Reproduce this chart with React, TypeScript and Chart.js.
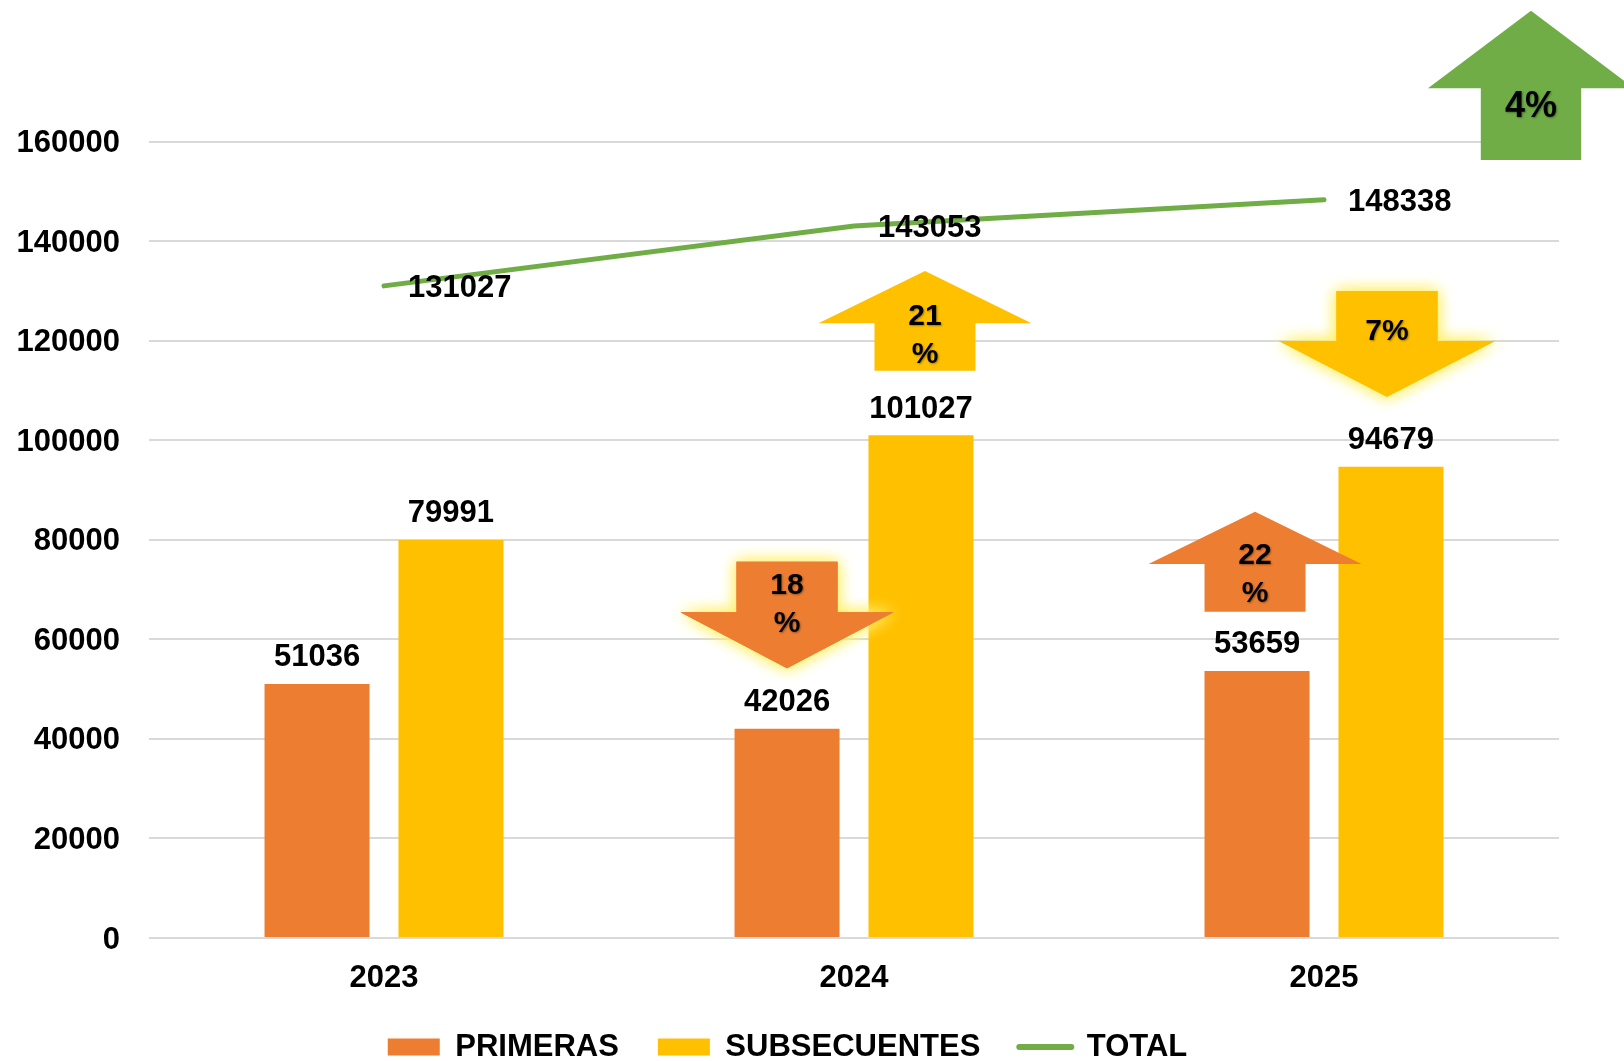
import React, { useEffect, useRef } from "react";
import { Chart, registerables } from "chart.js";

Chart.register(...registerables);

// ---------------- data ----------------
const categories = ["2023", "2024", "2025"];
const primeras = [51036, 42026, 53659];
const subsecuentes = [79991, 101027, 94679];
const total = [131027, 143053, 148338];
const yTickValues = [0, 20000, 40000, 60000, 80000, 100000, 120000, 140000, 160000];
const seriesNames = ["PRIMERAS", "SUBSECUENTES", "TOTAL"];
const changeTexts = [["18", "%"], ["21", "%"], ["22", "%"], ["7%"], ["4%"]];

// ---------------- styles ----------------
const COLORS = {
  primeras: "#ED7D31",
  subsecuentes: "#FFC000",
  total: "#70AD47",
  grid: "#D9D9D9",
  text: "#000000",
};
const FONT = "'Liberation Sans', Arial, Helvetica, sans-serif";
const CAP = 0.358; // half cap-height ratio, to centre digits vertically on an alphabetic baseline

// arrow annotations: anchored on a bar (ds, idx) or on the right edge of the plot (ds = -1);
// vertical anchors expressed in value units of the y scale
const ARROWS = [
  { ds: 0, idx: 1, dx: 0, start: 75610, base: 65443, tip: 54190, textAt: 66910, color: COLORS.primeras, glow: true, half: 50.5, headHalf: 106.5, size: 30 },
  { ds: 1, idx: 1, dx: 4, start: 113990, base: 123512, tip: 134020, textAt: 121000, color: COLORS.subsecuentes, glow: false, half: 50.5, headHalf: 106.5, size: 30 },
  { ds: 0, idx: 2, dx: -2, start: 65563, base: 75147, tip: 85656, textAt: 72937, color: COLORS.primeras, glow: false, half: 50.5, headHalf: 106.5, size: 30 },
  { ds: 1, idx: 2, dx: -4, start: 130000, base: 119955, tip: 108763, textAt: 121822, color: COLORS.subsecuentes, glow: true, half: 50.5, headHalf: 108, size: 30 },
  { ds: -1, idx: 0, dx: -28, start: 156323, base: 170730, tip: 186320, textAt: 166970, color: COLORS.total, glow: false, half: 50.2, headHalf: 103, size: 36 },
];

const dataLabelsPlugin = {
  id: "dataLabels",
  afterDatasetsDraw(chart: any) {
    const ctx = chart.ctx;
    ctx.save();
    const size = 31;
    ctx.font = `bold ${size}px ${FONT}`;
    ctx.fillStyle = COLORS.text;
    ctx.textBaseline = "alphabetic";
    chart.data.datasets.forEach((ds: any, di: number) => {
      const meta = chart.getDatasetMeta(di);
      meta.data.forEach((el: any, i: number) => {
        const v = ds.data[i];
        if (ds.type === "line") {
          ctx.textAlign = "left";
          ctx.fillText(String(v), el.x + 24, el.y + CAP * size);
        } else {
          ctx.textAlign = "center";
          ctx.fillText(String(v), el.x, el.y - 28.7 + CAP * size);
        }
      });
    });
    ctx.restore();
  },
};

const arrowsPlugin = {
  id: "changeArrows",
  afterDraw(chart: any) {
    const ctx = chart.ctx;
    const y = chart.scales.y;
    ARROWS.forEach((a, k) => {
      let cx: number;
      if (a.ds >= 0) {
        cx = chart.getDatasetMeta(a.ds).data[a.idx].x + a.dx;
      } else {
        cx = chart.chartArea.right + a.dx;
      }
      const ys = y.getPixelForValue(a.start);
      const yb = y.getPixelForValue(a.base);
      const yt = y.getPixelForValue(a.tip);
      const path = () => {
        ctx.beginPath();
        ctx.moveTo(cx - a.half, ys);
        ctx.lineTo(cx - a.half, yb);
        ctx.lineTo(cx - a.headHalf, yb);
        ctx.lineTo(cx, yt);
        ctx.lineTo(cx + a.headHalf, yb);
        ctx.lineTo(cx + a.half, yb);
        ctx.lineTo(cx + a.half, ys);
        ctx.closePath();
      };
      ctx.save();
      ctx.fillStyle = a.color;
      if (a.glow) {
        ctx.shadowColor = "rgba(255, 240, 110, 1)";
        ctx.shadowBlur = 16;
        path();
        ctx.fill();
        ctx.fill();
        ctx.shadowBlur = 0;
        ctx.shadowColor = "transparent";
      }
      path();
      ctx.fill();
      ctx.restore();

      // text
      const lines = changeTexts[k];
      const tc = y.getPixelForValue(a.textAt);
      ctx.save();
      ctx.font = `bold ${a.size}px ${FONT}`;
      ctx.fillStyle = COLORS.text;
      ctx.textAlign = "center";
      ctx.textBaseline = "middle";
      ctx.shadowColor = "rgba(0,0,0,0.35)";
      ctx.shadowOffsetX = 1;
      ctx.shadowOffsetY = 1;
      ctx.shadowBlur = 2;
      const spacing = 38;
      lines.forEach((t, li) => {
        const off = (li - (lines.length - 1) / 2) * spacing;
        ctx.fillText(t, cx, tc + off);
      });
      ctx.restore();
    });
  },
};

export default function App() {
  const ref = useRef<HTMLCanvasElement | null>(null);

  useEffect(() => {
    document.body.style.margin = "0";
    const canvas = ref.current;
    if (!canvas) return;
    Chart.defaults.font.family = FONT;

    const chart = new Chart(canvas, {
      type: "bar",
      data: {
        labels: categories,
        datasets: [
          {
            type: "bar",
            label: seriesNames[0],
            data: primeras,
            backgroundColor: COLORS.primeras,
            borderWidth: 0,
            categoryPercentage: 0.57,
            barPercentage: 0.784,
            order: 1,
          },
          {
            type: "bar",
            label: seriesNames[1],
            data: subsecuentes,
            backgroundColor: COLORS.subsecuentes,
            borderWidth: 0,
            categoryPercentage: 0.57,
            barPercentage: 0.784,
            order: 2,
          },
          {
            type: "line",
            label: seriesNames[2],
            data: total,
            borderColor: COLORS.total,
            backgroundColor: COLORS.total,
            borderWidth: 5,
            borderCapStyle: "round",
            pointRadius: 0,
            tension: 0,
            fill: false,
            order: 0,
          },
        ] as any,
      },
      options: {
        responsive: false,
        animation: false,
        devicePixelRatio: 1,
        events: [],
        layout: {
          padding: { top: 141.7, left: 16, right: 65, bottom: -11.5 },
        },
        plugins: {
          tooltip: { enabled: false },
          legend: {
            display: true,
            position: "bottom",
            align: "center",
            labels: {
              usePointStyle: true,
              pointStyleWidth: 52,
              boxHeight: 17,
              padding: 39,
              color: COLORS.text,
              font: { size: 31, weight: "bold", family: FONT },
              generateLabels: (ch: any) =>
                ch.data.datasets.map((ds: any, i: number) => {
                  const isLine = ds.type === "line";
                  const c = isLine ? COLORS.total : ds.backgroundColor;
                  return {
                    text: ds.label,
                    fillStyle: c,
                    strokeStyle: c,
                    lineWidth: isLine ? 6 : 0,
                    lineCap: isLine ? "round" : "butt",
                    pointStyle: isLine ? "line" : "rect",
                    hidden: false,
                    datasetIndex: i,
                    fontColor: COLORS.text,
                  };
                }),
            },
          },
        },
        scales: {
          x: {
            type: "category",
            offset: true,
            grid: { display: false, drawTicks: false },
            border: { display: false },
            ticks: {
              color: COLORS.text,
              padding: 22,
              font: { size: 31, weight: "bold", family: FONT },
            },
            afterFit: (s: any) => {
              s.height = 54.5;
            },
          },
          y: {
            min: 0,
            max: 160000,
            grid: { color: COLORS.grid, lineWidth: 2, drawTicks: false },
            border: { display: false },
            ticks: {
              color: COLORS.text,
              padding: 29,
              labelOffset: 2,
              font: { size: 31, weight: "bold", family: FONT },
              callback: (v: any) => String(v),
            },
            afterBuildTicks: (s: any) => {
              s.ticks = yTickValues.map((v) => ({ value: v }));
            },
            afterFit: (s: any) => {
              s.width = 133;
            },
          },
        },
      } as any,
      plugins: [dataLabelsPlugin, arrowsPlugin],
    });

    return () => chart.destroy();
  }, []);

  return (
    <div style={{ width: 1624, height: 1061, background: "#ffffff" }}>
      <canvas ref={ref} width={1624} height={1061} style={{ display: "block" }} />
    </div>
  );
}
